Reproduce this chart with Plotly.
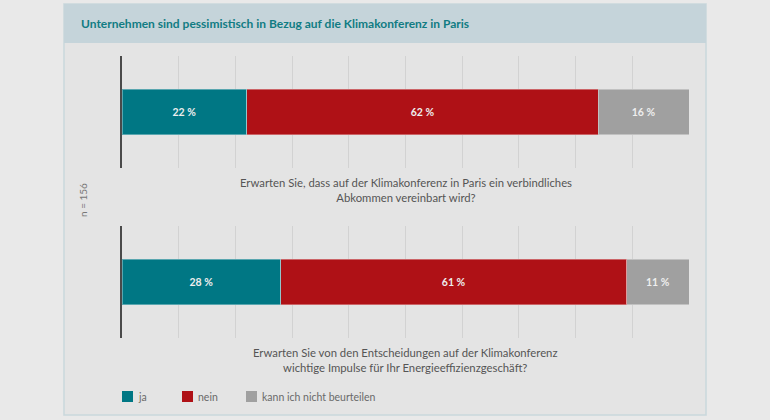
import plotly.graph_objects as go
from plotly.subplots import make_subplots

title = "Unternehmen sind pessimistisch in Bezug auf die Klimakonferenz in Paris"
questions = [
    "Erwarten Sie, dass auf der Klimakonferenz in Paris ein verbindliches<br>Abkommen vereinbart wird?",
    "Erwarten Sie von den Entscheidungen auf der Klimakonferenz<br>wichtige Impulse für Ihr Energieeffizienzgeschäft?",
]
series_names = ["ja", "nein", "kann ich nicht beurteilen"]
ja = [22, 28]
nein = [62, 61]
kann = [16, 11]
sample_note = "n = 156"

colors = ["#007784", "#af1116", "#a0a0a0"]
values = [ja, nein, kann]

W, H = 770, 420
def px(x):
    return x / W
def py(y):
    return 1 - y / H

fig = make_subplots(rows=2, cols=1)
panels = [(56, 168), (226, 338)]
font_family = "Lato, 'Open Sans', sans-serif"

for qi in range(2):
    r = qi + 1
    for si, name in enumerate(series_names):
        v = values[si][qi]
        fig.add_trace(
            go.Bar(
                x=[v], y=[0], orientation="h", name=name,
                marker=dict(color=colors[si], line=dict(color="rgba(255,255,255,0.35)", width=1)),
                width=0.41,
                text=[f"{v} %"], textposition="inside", insidetextanchor="middle",
                textfont=dict(color="#eeeeee", size=10.5, family=font_family, weight="bold"),
                showlegend=False, hoverinfo="skip",
            ),
            row=r, col=1,
        )

fig.update_layout(barmode="stack")

for qi, (top, bot) in enumerate(panels):
    xa = "xaxis" if qi == 0 else "xaxis2"
    ya = "yaxis" if qi == 0 else "yaxis2"
    fig.layout[xa].update(domain=[px(122), px(689)], range=[0, 100], dtick=10, tick0=0,
                          showgrid=True, gridcolor="#d2d2d2", gridwidth=1,
                          showticklabels=False, zeroline=False, showline=False, ticks="")
    fig.layout[ya].update(domain=[py(bot), py(top)], range=[-0.5, 0.5],
                          showticklabels=False, showgrid=False, zeroline=False,
                          showline=True, linecolor="#4a4a4a", linewidth=2, ticks="")

shapes = []
shapes.append(dict(type="rect", xref="paper", yref="paper", x0=px(64), x1=px(706), y0=py(415), y1=py(4),
                   fillcolor="#e4e4e4", line=dict(color="#c9d7dc", width=1.5), layer="below"))
shapes.append(dict(type="rect", xref="paper", yref="paper", x0=px(64), x1=px(706), y0=py(43), y1=py(4),
                   fillcolor="#c5d4da", line=dict(width=0), layer="below"))

annotations = []
annotations.append(dict(text=title, xref="paper", yref="paper", x=px(79), y=py(23),
                        xanchor="left", yanchor="middle", showarrow=False,
                        font=dict(size=12, color="#117c83", family=font_family, weight="bold")))
q_y = [190, 360]
for qi, q in enumerate(questions):
    annotations.append(dict(text=q, xref="paper", yref="paper", x=px(405.5), y=py(q_y[qi]),
                            xanchor="center", yanchor="middle", showarrow=False, align="center",
                            font=dict(size=11.3, color="#555555", family=font_family)))
annotations.append(dict(text=sample_note, xref="paper", yref="paper", x=px(83), y=py(200),
                        xanchor="center", yanchor="middle", showarrow=False, textangle=-90,
                        font=dict(size=10, color="#777777", family=font_family)))

leg_x = [122, 182, 246]
for i, name in enumerate(series_names):
    x0 = leg_x[i]
    shapes.append(dict(type="rect", xref="paper", yref="paper", x0=px(x0), x1=px(x0 + 11),
                       y0=py(402), y1=py(391), fillcolor=colors[i], line=dict(width=0)))
    annotations.append(dict(text=name, xref="paper", yref="paper", x=px(x0 + 14), y=py(397),
                            xanchor="left", yanchor="middle", showarrow=False,
                            font=dict(size=10.5, color="#6a6a6a", family=font_family)))

fig.update_layout(
    width=W, height=H, margin=dict(l=0, r=0, t=0, b=0),
    paper_bgcolor="#e9e9e9", plot_bgcolor="rgba(0,0,0,0)",
    shapes=shapes, annotations=annotations, showlegend=False,
    font=dict(family=font_family),
)

fig.write_html("out.html", config={"displayModeBar": False},
               post_script="document.body.style.margin='0';document.body.style.background='#e9e9e9';")
